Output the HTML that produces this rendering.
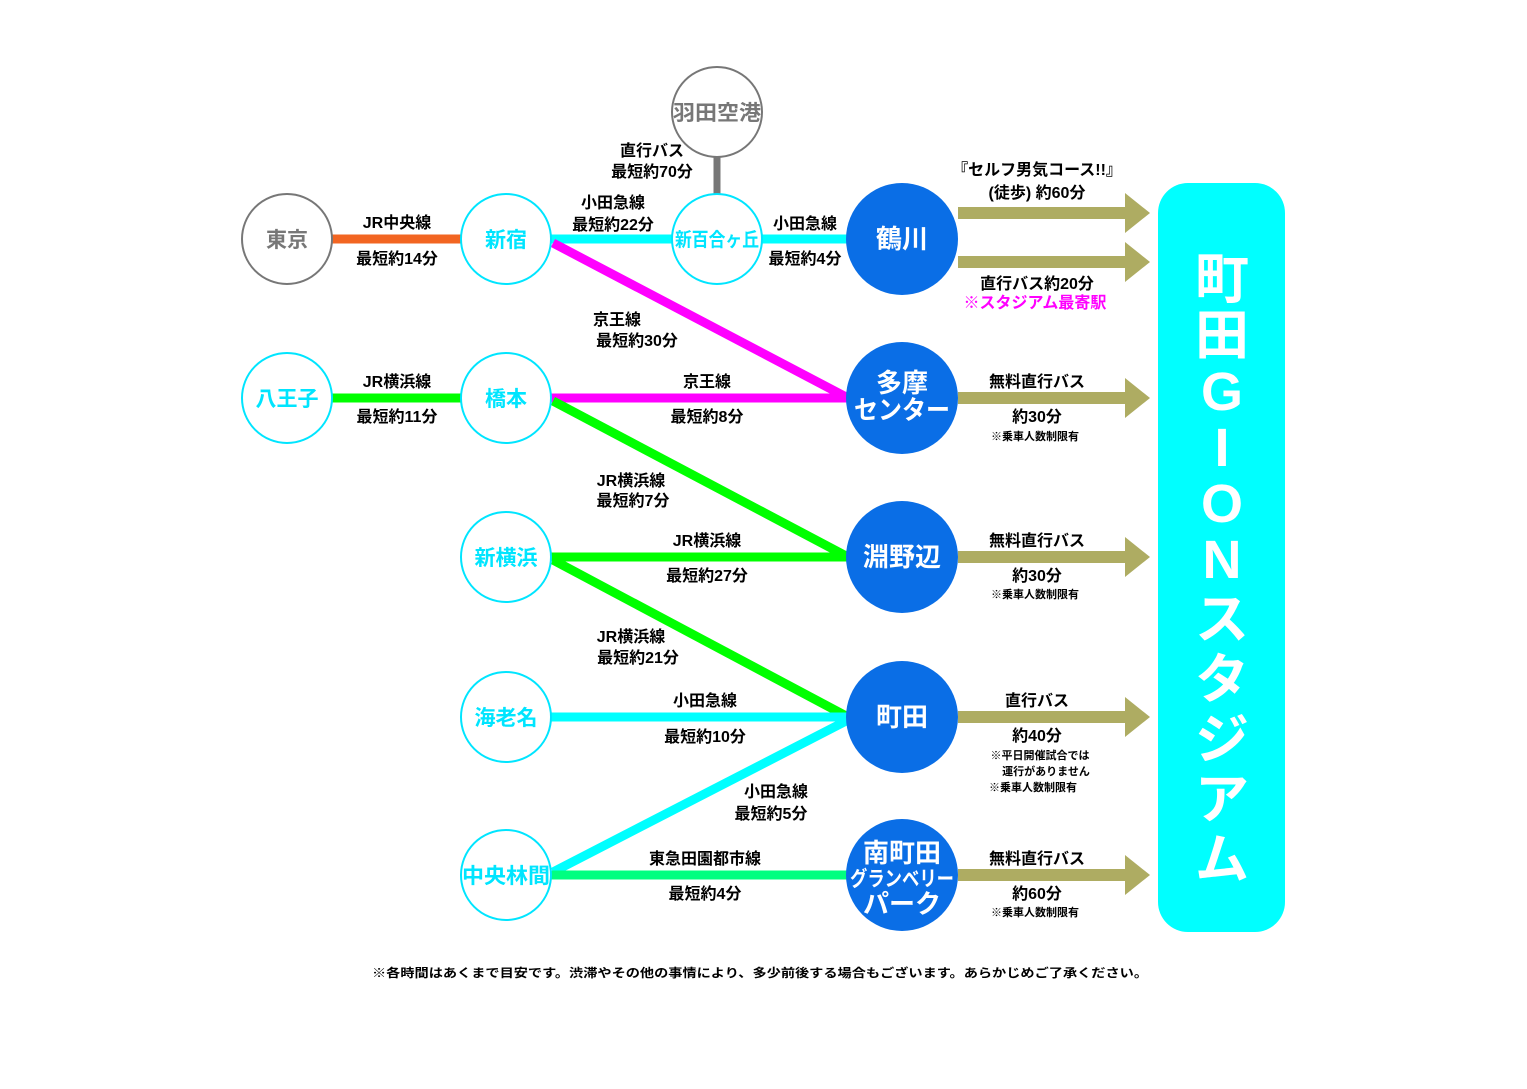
<!DOCTYPE html>
<html><head><meta charset="utf-8"><style>
body{margin:0;background:#fff}
svg{display:block}
text{font-family:"Liberation Sans","Noto Sans CJK JP",sans-serif;font-weight:bold}
</style></head><body>
<svg width="1527" height="1089" viewBox="0 0 1527 1089" xmlns="http://www.w3.org/2000/svg">
<rect width="1527" height="1089" fill="#fff"/>
<g stroke-width="9" fill="none">
<line x1="332" y1="239" x2="462" y2="239" stroke="#f26522"/>
<line x1="550" y1="239" x2="672" y2="239" stroke="#00ffff"/>
<line x1="762" y1="239" x2="850" y2="239" stroke="#00ffff"/>
<line x1="717" y1="157" x2="717" y2="195" stroke="#777" stroke-width="7"/>
<line x1="553" y1="243" x2="848" y2="398" stroke="#ff00ff"/>
<line x1="332" y1="398" x2="462" y2="398" stroke="#00ff00"/>
<line x1="550" y1="398" x2="848" y2="398" stroke="#ff00ff"/>
<line x1="553" y1="401" x2="848" y2="557" stroke="#00ff00"/>
<line x1="550" y1="557" x2="848" y2="557" stroke="#00ff00"/>
<line x1="553" y1="560" x2="848" y2="717" stroke="#00ff00"/>
<line x1="550" y1="717" x2="848" y2="717" stroke="#00ffff"/>
<line x1="553" y1="872" x2="848" y2="720" stroke="#00ffff"/>
<line x1="550" y1="875" x2="848" y2="875" stroke="#00ff80"/>
</g>
<g fill="#aeac62">
<path d="M958 207H1125V193L1150 213L1125 233V219H958Z"/>
<path d="M958 256H1125V242L1150 262L1125 282V268H958Z"/>
<path d="M958 392H1125V378L1150 398L1125 418V404H958Z"/>
<path d="M958 551H1125V537L1150 557L1125 577V563H958Z"/>
<path d="M958 711H1125V697L1150 717L1125 737V723H958Z"/>
<path d="M958 869H1125V855L1150 875L1125 895V881H958Z"/>
</g>
<rect x="1158" y="183" width="127" height="749" rx="30" fill="#00ffff"/>
<g fill="#fff" font-size="54" text-anchor="middle">
<text x="1222" y="298">町</text>
<text x="1222" y="354">田</text>
<text x="1222" y="410">G</text>
<text x="1222" y="466">I</text>
<text x="1222" y="522">O</text>
<text x="1222" y="578">N</text>
<text x="1222" y="638">ス</text>
<text x="1222" y="698">タ</text>
<text x="1222" y="758">ジ</text>
<text x="1222" y="818">ア</text>
<text x="1222" y="838" dy="0" opacity="0"> </text>
<text x="1222" y="878">ム</text>
</g>
<g fill="#fff" stroke-width="2">
<circle cx="287" cy="239" r="45" stroke="#777"/>
<circle cx="717" cy="112" r="45" stroke="#777"/>
<circle cx="506" cy="239" r="45" stroke="#00e5ff"/>
<circle cx="717" cy="239" r="45" stroke="#00e5ff"/>
<circle cx="287" cy="398" r="45" stroke="#00e5ff"/>
<circle cx="506" cy="398" r="45" stroke="#00e5ff"/>
<circle cx="506" cy="557" r="45" stroke="#00e5ff"/>
<circle cx="506" cy="717" r="45" stroke="#00e5ff"/>
<circle cx="506" cy="875" r="45" stroke="#00e5ff"/>
</g>
<g font-size="21" text-anchor="middle" fill="#00e5ff">
<text x="287" y="247" fill="#777">東京</text>
<text x="717" y="120" fill="#777" textLength="88" lengthAdjust="spacingAndGlyphs">羽田空港</text>
<text x="506" y="247">新宿</text>
<text x="717" y="246" font-size="19" textLength="84" lengthAdjust="spacingAndGlyphs">新百合ヶ丘</text>
<text x="287" y="406">八王子</text>
<text x="506" y="406">橋本</text>
<text x="506" y="565">新横浜</text>
<text x="506" y="725">海老名</text>
<text x="506" y="883" textLength="88" lengthAdjust="spacingAndGlyphs">中央林間</text>
</g>
<g fill="#0a6ee6">
<circle cx="902" cy="239" r="56"/>
<circle cx="902" cy="398" r="56"/>
<circle cx="902" cy="557" r="56"/>
<circle cx="902" cy="717" r="56"/>
<circle cx="902" cy="875" r="56"/>
</g>
<g fill="#fff" text-anchor="middle" font-size="26">
<text x="902" y="248">鶴川</text>
<text x="902" y="392">多摩</text>
<text x="902" y="419" textLength="96" lengthAdjust="spacingAndGlyphs">センター</text>
<text x="902" y="566">淵野辺</text>
<text x="902" y="726">町田</text>
<text x="902" y="862">南町田</text>
<text x="902" y="886" font-size="21" textLength="104" lengthAdjust="spacingAndGlyphs">グランベリー</text>
<text x="902" y="913">パーク</text>
</g>
<g font-size="16" fill="#000" text-anchor="middle">
<text x="397" y="228">JR中央線</text>
<text x="397" y="264">最短約14分</text>
<text x="652" y="156">直行バス</text>
<text x="652" y="177">最短約70分</text>
<text x="613" y="208">小田急線</text>
<text x="613" y="230">最短約22分</text>
<text x="805" y="229">小田急線</text>
<text x="805" y="264">最短約4分</text>
<text x="1037" y="175">『セルフ男気コース!!』</text>
<text x="1037" y="198">(徒歩) 約60分</text>
<text x="1037" y="289">直行バス約20分</text>
<text x="1035" y="308" fill="#ff00ff">※スタジアム最寄駅</text>
<text x="617" y="325">京王線</text>
<text x="637" y="346">最短約30分</text>
<text x="397" y="387">JR横浜線</text>
<text x="397" y="422">最短約11分</text>
<text x="707" y="387">京王線</text>
<text x="707" y="422">最短約8分</text>
<text x="1037" y="387">無料直行バス</text>
<text x="1037" y="422">約30分</text>
<text x="1035" y="440" font-size="11">※乗車人数制限有</text>
<text x="631" y="486">JR横浜線</text>
<text x="633" y="506">最短約7分</text>
<text x="707" y="546">JR横浜線</text>
<text x="707" y="581">最短約27分</text>
<text x="1037" y="546">無料直行バス</text>
<text x="1037" y="581">約30分</text>
<text x="1035" y="598" font-size="11">※乗車人数制限有</text>
<text x="631" y="642">JR横浜線</text>
<text x="638" y="663">最短約21分</text>
<text x="705" y="706">小田急線</text>
<text x="705" y="742">最短約10分</text>
<text x="1037" y="706">直行バス</text>
<text x="1037" y="741">約40分</text>
<text x="1040" y="759" font-size="11">※平日開催試合では</text>
<text x="1046" y="775" font-size="11">運行がありません</text>
<text x="1033" y="791" font-size="11">※乗車人数制限有</text>
<text x="776" y="797">小田急線</text>
<text x="771" y="819">最短約5分</text>
<text x="705" y="864">東急田園都市線</text>
<text x="705" y="899">最短約4分</text>
<text x="1037" y="864">無料直行バス</text>
<text x="1037" y="899">約60分</text>
<text x="1035" y="916" font-size="11">※乗車人数制限有</text>
<text x="760" y="977" font-size="12" textLength="776" lengthAdjust="spacingAndGlyphs">※各時間はあくまで目安です。渋滞やその他の事情により、多少前後する場合もございます。あらかじめご了承ください。</text>
</g>
</svg>
</body></html>
